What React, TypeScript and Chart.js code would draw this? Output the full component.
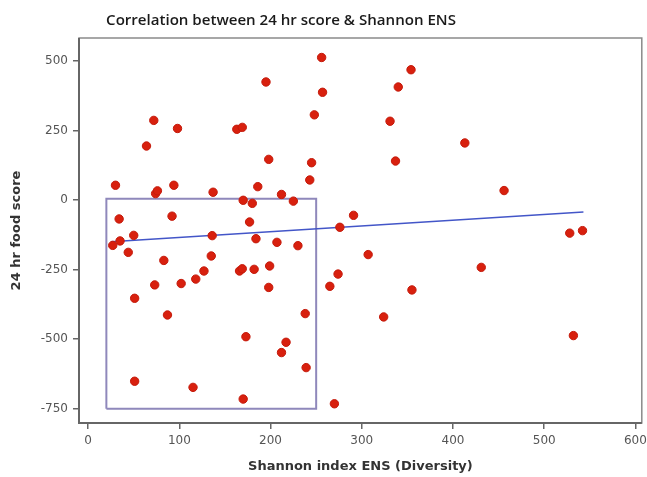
import React, { useEffect, useRef } from "react";
import { Chart, registerables } from "chart.js";

Chart.register(...registerables);

const TITLE = "Correlation between 24 hr score & Shannon ENS";
const X_TITLE = "Shannon index ENS (Diversity)";
const Y_TITLE = "24 hr food score";

const xTicks = [0, 100, 200, 300, 400, 500, 600];
const yTicks = [-750, -500, -250, 0, 250, 500];

const ensValues = [
  30, 64, 72, 74, 76, 94, 98, 137, 163, 169, 170, 180, 186, 34, 92, 256, 354, 195, 340, 257,
  248, 331, 198, 245, 337, 243, 212, 225, 291, 413, 456, 50, 27, 35, 44, 136, 135, 177, 184, 83,
  73, 102, 118, 127, 166, 169, 182, 51, 87, 276, 207, 230, 307, 199, 274, 265, 198, 355, 238, 324,
  528, 542, 431, 173, 51, 115, 170, 217, 212, 239, 270, 532,
];
const scoreValues = [
  53, 194, 286, 23, 33, 53, 257, 28, 254, 261, -1, -12, 48, -68, -58, 512, 468, 424, 406, 387,
  306, 283, 146, 134, 140, 72, 20, -4, -55, 205, 34, -127, -163, -147, -188, -128, -201, -79, -139, -217,
  -305, -300, -284, -255, -255, -247, -249, -353, -413, -98, -152, -164, -196, -237, -266, -310, -314, -323, -408, -420,
  -119, -110, -242, -491, -651, -673, -715, -511, -548, -602, -732, -487,
];

const fitX = [25, 543];
const fitY = [-150, -43];

const boxX = [20, 250];
const boxY = [-750, 5];

export default function App() {
  const ref = useRef<HTMLCanvasElement | null>(null);

  useEffect(() => {
    document.body.style.margin = "0";
    const canvas = ref.current;
    if (!canvas) return;

    const points = ensValues.map((x, i) => ({ x, y: scoreValues[i] }));
    const fit = fitX.map((x, i) => ({ x, y: fitY[i] }));
    const box = [
      { x: boxX[0], y: boxY[0] },
      { x: boxX[0], y: boxY[1] },
      { x: boxX[1], y: boxY[1] },
      { x: boxX[1], y: boxY[0] },
      { x: boxX[0], y: boxY[0] },
    ];

    const titlePlugin = {
      id: "customTitle",
      afterDraw(chart: any) {
        const ctx = chart.ctx;
        ctx.save();
        const family = "'Open Sans', 'DejaVu Sans', sans-serif";
        ctx.font = `600 16px ${family}`;
        const w = ctx.measureText(TITLE).width;
        const size = (16 * 350) / w;
        ctx.font = `600 ${size.toFixed(2)}px ${family}`;
        ctx.fillStyle = "#1a1a1a";
        ctx.textAlign = "center";
        ctx.textBaseline = "middle";
        ctx.fillText(TITLE, 281, 21);
        ctx.restore();
      },
    };

    const framePlugin = {
      id: "frame",
      afterDatasetsDraw(chart: any) {
        const { ctx, chartArea: a } = chart;
        ctx.save();
        ctx.strokeStyle = "#8a8a8a";
        ctx.lineWidth = 1.5;
        ctx.strokeRect(a.left, a.top, a.right - a.left, a.bottom - a.top);
        ctx.strokeStyle = "#666";
        ctx.lineWidth = 2;
        ctx.beginPath();
        ctx.moveTo(a.left, a.top);
        ctx.lineTo(a.left, a.bottom);
        ctx.lineTo(a.right, a.bottom);
        ctx.stroke();
        ctx.restore();
      },
    };

    const tickFont = { family: "'DejaVu Sans', sans-serif", size: 12 };
    const titleFont = { family: "'DejaVu Sans', sans-serif", size: 13, weight: "bold" as const };

    const chart = new Chart(canvas, {
      type: "scatter",
      data: {
        datasets: [
          {
            label: "points",
            data: points,
            backgroundColor: "#d8200e",
            borderColor: "#c41a0b",
            borderWidth: 1,
            pointRadius: 4.2,
            order: 0,
          },
          {
            type: "line",
            label: "fit",
            data: fit,
            borderColor: "#4356c8",
            borderWidth: 1.5,
            pointRadius: 0,
            showLine: true,
            fill: false,
            order: 1,
          } as any,
          {
            type: "line",
            label: "box",
            data: box,
            borderColor: "#8f88bb",
            borderWidth: 2,
            pointRadius: 0,
            showLine: true,
            fill: false,
            order: 2,
          } as any,
        ],
      },
      options: {
        responsive: false,
        animation: false,
        layout: { padding: { top: 38, right: 4, left: 0, bottom: 0 } },
        plugins: {
          legend: { display: false },
          tooltip: { enabled: false },
          title: { display: false },
        },
        scales: {
          x: {
            type: "linear",
            min: -10,
            max: 607,
            afterBuildTicks: (scale: any) => {
              scale.ticks = xTicks.map((v) => ({ value: v }));
            },
            afterFit: (scale: any) => {
              scale.height = 54;
              scale.paddingRight = 0;
              scale.paddingLeft = 0;
            },
            grid: {
              display: true,
              drawOnChartArea: false,
              drawTicks: true,
              tickLength: 6,
              color: "#666",
              lineWidth: 1.5,
            },
            border: { display: false },
            ticks: { color: "#555", font: tickFont, padding: 5 },
            title: {
              display: true,
              text: X_TITLE,
              color: "#333",
              font: titleFont,
              padding: { top: 0, bottom: 3 },
            },
          },
          y: {
            type: "linear",
            min: -801,
            max: 582,
            afterBuildTicks: (scale: any) => {
              scale.ticks = yTicks.map((v) => ({ value: v }));
            },
            afterFit: (scale: any) => {
              scale.width = 79;
              scale.paddingTop = 0;
              scale.paddingBottom = 0;
            },
            grid: {
              display: true,
              drawOnChartArea: false,
              drawTicks: true,
              tickLength: 6,
              color: "#666",
              lineWidth: 1.5,
            },
            border: { display: false },
            ticks: { color: "#555", font: tickFont, padding: 5 },
            title: {
              display: true,
              text: Y_TITLE,
              color: "#333",
              font: titleFont,
              padding: { top: 9, bottom: 0 },
            },
          },
        },
      },
      plugins: [titlePlugin, framePlugin],
    });

    return () => chart.destroy();
  }, []);

  return (
    <div style={{ width: 647, height: 477, background: "#fff" }}>
      <canvas ref={ref} width={647} height={477} style={{ width: 647, height: 477, display: "block" }} />
    </div>
  );
}
